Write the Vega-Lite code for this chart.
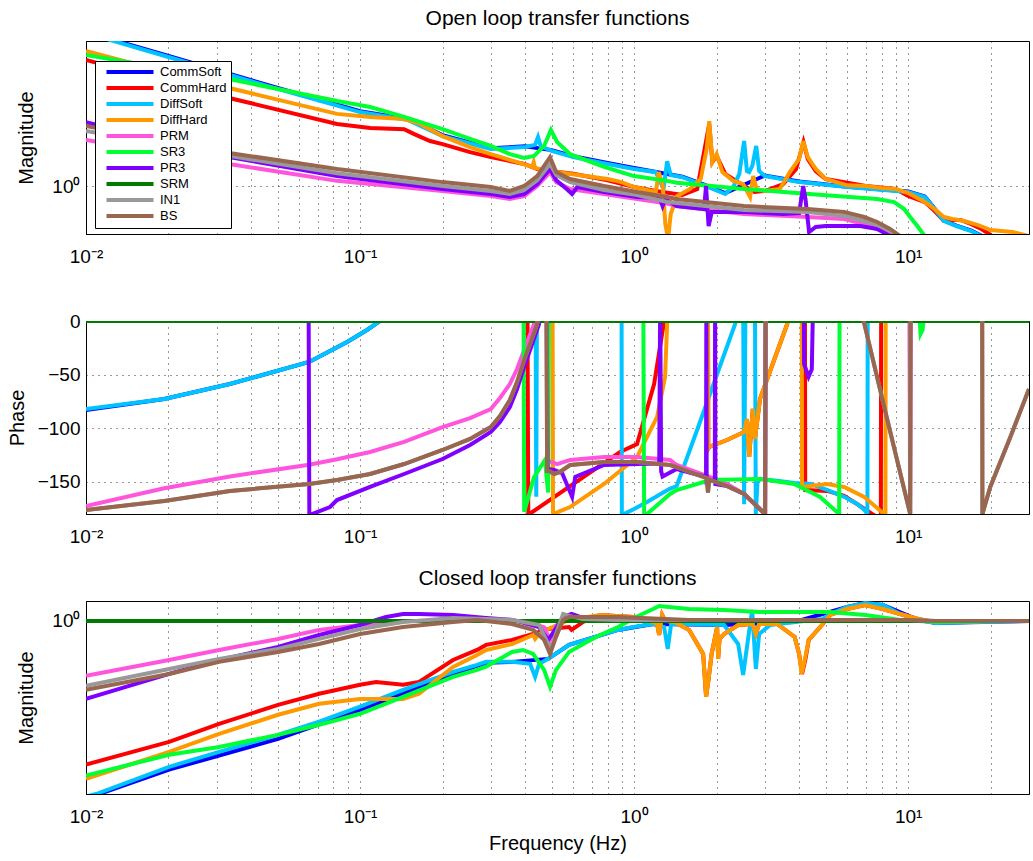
{
  "$schema": "https://vega.github.io/schema/vega-lite/v6.json",
  "background": "white",
  "padding": {"left": 6, "top": 7, "right": 0, "bottom": 0},
  "spacing": 87,
  "bounds": "flush",
  "resolve": {"legend": {"color": "independent"}},
  "config": {
    "font": "Liberation Sans",
    "view": {"stroke": "black", "strokeWidth": 1},
    "axis": {"labelFontSize": 19, "titleFontSize": 20, "titleFontWeight": "normal", "labelColor": "black", "titleColor": "black", "domainColor": "black", "ticks": false, "labelPadding": 6, "titlePadding": 10, "gridColor": "black", "gridDash": [1, 5], "gridOpacity": 0.8, "gridWidth": 1},
    "title": {"fontSize": 21, "fontWeight": "normal", "color": "black", "offset": 12}
  },
  "datasets": {
    "open": [
      {"s":"CommSoft","f":0.01,"v":10.0},{"s":"CommSoft","f":0.02,"v":6.98},{"s":"CommSoft","f":0.05,"v":4.33},{"s":"CommSoft","f":0.1,"v":3.06},{"s":"CommSoft","f":0.15,"v":2.72},{"s":"CommSoft","f":0.2,"v":2.14},{"s":"CommSoft","f":0.3,"v":1.76},{"s":"CommSoft","f":0.4,"v":1.81},{"s":"CommSoft","f":0.5,"v":1.71},{"s":"CommSoft","f":0.6,"v":1.56},{"s":"CommSoft","f":0.8,"v":1.41},{"s":"CommSoft","f":1,"v":1.31},{"s":"CommSoft","f":1.5,"v":1.15},{"s":"CommSoft","f":1.8,"v":1.02},{"s":"CommSoft","f":2.15,"v":0.9},{"s":"CommSoft","f":3,"v":1.17},{"s":"CommSoft","f":4,"v":1.07},{"s":"CommSoft","f":6,"v":0.99},{"s":"CommSoft","f":10,"v":0.92},{"s":"CommSoft","f":11.5,"v":0.855},{"s":"CommSoft","f":12.5,"v":0.712},{"s":"CommSoft","f":13.5,"v":0.596},{"s":"CommSoft","f":15,"v":0.553},{"s":"CommSoft","f":17,"v":0.513},{"s":"CommSoft","f":18.5,"v":0.476},{"s":"CommSoft","f":20,"v":0.423},{"s":"CommSoft","f":27.6,"v":0.338},
      {"s":"CommHard","f":0.01,"v":6.58},{"s":"CommHard","f":0.02,"v":4.73},{"s":"CommHard","f":0.0333,"v":3.73},{"s":"CommHard","f":0.0824,"v":2.53},{"s":"CommHard","f":0.1088,"v":2.38},{"s":"CommHard","f":0.1448,"v":2.34},{"s":"CommHard","f":0.157,"v":2.18},{"s":"CommHard","f":0.18,"v":1.96},{"s":"CommHard","f":0.2,"v":1.87},{"s":"CommHard","f":0.252,"v":1.66},{"s":"CommHard","f":0.3,"v":1.54},{"s":"CommHard","f":0.397,"v":1.39},{"s":"CommHard","f":0.443,"v":1.29},{"s":"CommHard","f":0.4935,"v":1.25},{"s":"CommHard","f":0.6,"v":1.2},{"s":"CommHard","f":0.8,"v":1.09},{"s":"CommHard","f":1,"v":0.985},{"s":"CommHard","f":1.2,"v":0.928},{"s":"CommHard","f":1.5,"v":0.874},{"s":"CommHard","f":1.7,"v":0.957},{"s":"CommHard","f":1.88,"v":2.53},{"s":"CommHard","f":1.93,"v":1.43},{"s":"CommHard","f":2,"v":1.57},{"s":"CommHard","f":2.15,"v":1.2},{"s":"CommHard","f":2.5,"v":1.01},{"s":"CommHard","f":2.75,"v":0.914},{"s":"CommHard","f":3,"v":0.928},{"s":"CommHard","f":3.5,"v":1.03},{"s":"CommHard","f":3.9,"v":1.29},{"s":"CommHard","f":4.15,"v":1.93},{"s":"CommHard","f":4.3,"v":1.5},{"s":"CommHard","f":4.6,"v":1.25},{"s":"CommHard","f":5,"v":1.11},{"s":"CommHard","f":7,"v":1},{"s":"CommHard","f":9,"v":0.957},{"s":"CommHard","f":10,"v":0.861},{"s":"CommHard","f":11.5,"v":0.787},{"s":"CommHard","f":12.5,"v":0.688},{"s":"CommHard","f":13.5,"v":0.593},{"s":"CommHard","f":14.5,"v":0.602},{"s":"CommHard","f":15.5,"v":0.602},{"s":"CommHard","f":17,"v":0.566},{"s":"CommHard","f":18.5,"v":0.526},{"s":"CommHard","f":20,"v":0.481},{"s":"CommHard","f":22,"v":0.42},{"s":"CommHard","f":27.6,"v":0.35},
      {"s":"DiffSoft","f":0.01,"v":9.86},{"s":"DiffSoft","f":0.02,"v":6.88},{"s":"DiffSoft","f":0.05,"v":4.27},{"s":"DiffSoft","f":0.1,"v":3.02},{"s":"DiffSoft","f":0.15,"v":2.68},{"s":"DiffSoft","f":0.2,"v":2.11},{"s":"DiffSoft","f":0.3,"v":1.74},{"s":"DiffSoft","f":0.4,"v":1.79},{"s":"DiffSoft","f":0.435,"v":1.85},{"s":"DiffSoft","f":0.446,"v":2.08},{"s":"DiffSoft","f":0.456,"v":1.82},{"s":"DiffSoft","f":0.5,"v":1.69},{"s":"DiffSoft","f":0.6,"v":1.54},{"s":"DiffSoft","f":0.8,"v":1.39},{"s":"DiffSoft","f":1,"v":1.29},{"s":"DiffSoft","f":1.2,"v":1.23},{"s":"DiffSoft","f":1.28,"v":0.957},{"s":"DiffSoft","f":1.32,"v":1.45},{"s":"DiffSoft","f":1.36,"v":1.18},{"s":"DiffSoft","f":1.5,"v":1.14},{"s":"DiffSoft","f":1.8,"v":1.01},{"s":"DiffSoft","f":2.15,"v":0.887},{"s":"DiffSoft","f":2.3,"v":0.986},{"s":"DiffSoft","f":2.42,"v":1.2},{"s":"DiffSoft","f":2.52,"v":1.96},{"s":"DiffSoft","f":2.58,"v":1.25},{"s":"DiffSoft","f":2.63,"v":1.23},{"s":"DiffSoft","f":2.7,"v":1.35},{"s":"DiffSoft","f":2.79,"v":1.82},{"s":"DiffSoft","f":2.86,"v":1.25},{"s":"DiffSoft","f":3,"v":1.16},{"s":"DiffSoft","f":4,"v":1.06},{"s":"DiffSoft","f":6,"v":0.986},{"s":"DiffSoft","f":10,"v":0.914},{"s":"DiffSoft","f":11.5,"v":0.849},{"s":"DiffSoft","f":12.5,"v":0.709},{"s":"DiffSoft","f":13.5,"v":0.593},{"s":"DiffSoft","f":15,"v":0.55},{"s":"DiffSoft","f":17,"v":0.51},{"s":"DiffSoft","f":18.5,"v":0.473},{"s":"DiffSoft","f":20,"v":0.42},{"s":"DiffSoft","f":27.6,"v":0.336},
      {"s":"DiffHard","f":0.01,"v":7.53},{"s":"DiffHard","f":0.02,"v":5.42},{"s":"DiffHard","f":0.0333,"v":4.33},{"s":"DiffHard","f":0.0824,"v":2.94},{"s":"DiffHard","f":0.1088,"v":2.81},{"s":"DiffHard","f":0.1448,"v":2.72},{"s":"DiffHard","f":0.1656,"v":2.53},{"s":"DiffHard","f":0.2,"v":2.11},{"s":"DiffHard","f":0.252,"v":1.79},{"s":"DiffHard","f":0.3,"v":1.61},{"s":"DiffHard","f":0.374,"v":1.43},{"s":"DiffHard","f":0.425,"v":1.33},{"s":"DiffHard","f":0.43,"v":1.43},{"s":"DiffHard","f":0.435,"v":1.31},{"s":"DiffHard","f":0.4935,"v":1.25},{"s":"DiffHard","f":0.58,"v":1.2},{"s":"DiffHard","f":0.8,"v":1.11},{"s":"DiffHard","f":0.9,"v":1.06},{"s":"DiffHard","f":1,"v":0.985},{"s":"DiffHard","f":1.2,"v":0.914},{"s":"DiffHard","f":1.23,"v":1.23},{"s":"DiffHard","f":1.27,"v":1.03},{"s":"DiffHard","f":1.3,"v":0.567},{"s":"DiffHard","f":1.33,"v":0.453},{"s":"DiffHard","f":1.36,"v":0.658},{"s":"DiffHard","f":1.435,"v":0.861},{"s":"DiffHard","f":1.6,"v":0.957},{"s":"DiffHard","f":1.75,"v":1.11},{"s":"DiffHard","f":1.84,"v":1.74},{"s":"DiffHard","f":1.88,"v":2.64},{"s":"DiffHard","f":1.93,"v":1.43},{"s":"DiffHard","f":2,"v":1.61},{"s":"DiffHard","f":2.1,"v":1.23},{"s":"DiffHard","f":2.3,"v":1.08},{"s":"DiffHard","f":2.5,"v":1.03},{"s":"DiffHard","f":2.65,"v":0.849},{"s":"DiffHard","f":2.72,"v":1.16},{"s":"DiffHard","f":2.8,"v":0.957},{"s":"DiffHard","f":3,"v":0.928},{"s":"DiffHard","f":3.4,"v":0.957},{"s":"DiffHard","f":3.7,"v":1.23},{"s":"DiffHard","f":4,"v":1.5},{"s":"DiffHard","f":4.14,"v":1.96},{"s":"DiffHard","f":4.3,"v":1.54},{"s":"DiffHard","f":4.6,"v":1.29},{"s":"DiffHard","f":5,"v":1.11},{"s":"DiffHard","f":6,"v":1.01},{"s":"DiffHard","f":7,"v":1},{"s":"DiffHard","f":8,"v":0.97},{"s":"DiffHard","f":9,"v":0.957},{"s":"DiffHard","f":10,"v":0.901},{"s":"DiffHard","f":11.5,"v":0.787},{"s":"DiffHard","f":12.5,"v":0.709},{"s":"DiffHard","f":13.5,"v":0.629},{"s":"DiffHard","f":14.5,"v":0.611},{"s":"DiffHard","f":16,"v":0.593},{"s":"DiffHard","f":18,"v":0.558},{"s":"DiffHard","f":20,"v":0.518},{"s":"DiffHard","f":24,"v":0.503},{"s":"DiffHard","f":27.6,"v":0.473},
      {"s":"PRM","f":0.01,"v":1.99},{"s":"PRM","f":0.0333,"v":1.39},{"s":"PRM","f":0.0824,"v":1.08},{"s":"PRM","f":0.2,"v":0.929},{"s":"PRM","f":0.3,"v":0.861},{"s":"PRM","f":0.352,"v":0.823},{"s":"PRM","f":0.397,"v":0.861},{"s":"PRM","f":0.443,"v":1},{"s":"PRM","f":0.4935,"v":1.23},{"s":"PRM","f":0.52,"v":1.06},{"s":"PRM","f":0.584,"v":0.957},{"s":"PRM","f":0.777,"v":0.887},{"s":"PRM","f":1.026,"v":0.823},{"s":"PRM","f":1.32,"v":0.77},{"s":"PRM","f":1.43,"v":0.74},{"s":"PRM","f":2.52,"v":0.658},{"s":"PRM","f":4.3,"v":0.629},{"s":"PRM","f":5.84,"v":0.611},{"s":"PRM","f":6.91,"v":0.567},{"s":"PRM","f":7.71,"v":0.526},{"s":"PRM","f":8.59,"v":0.488},{"s":"PRM","f":9,"v":0.453},{"s":"PRM","f":10,"v":0.39},
      {"s":"SR3","f":0.01,"v":7.09},{"s":"SR3","f":0.02,"v":5.75},{"s":"SR3","f":0.0333,"v":4.95},{"s":"SR3","f":0.0824,"v":3.56},{"s":"SR3","f":0.1088,"v":3.26},{"s":"SR3","f":0.1448,"v":2.81},{"s":"SR3","f":0.2,"v":2.34},{"s":"SR3","f":0.252,"v":2.02},{"s":"SR3","f":0.3,"v":1.82},{"s":"SR3","f":0.352,"v":1.61},{"s":"SR3","f":0.397,"v":1.52},{"s":"SR3","f":0.4315,"v":1.57},{"s":"SR3","f":0.4694,"v":1.82},{"s":"SR3","f":0.497,"v":2.31},{"s":"SR3","f":0.5236,"v":1.93},{"s":"SR3","f":0.584,"v":1.61},{"s":"SR3","f":0.777,"v":1.33},{"s":"SR3","f":1,"v":1.16},{"s":"SR3","f":1.32,"v":1.08},{"s":"SR3","f":1.43,"v":1.05},{"s":"SR3","f":2.52,"v":0.957},{"s":"SR3","f":4.35,"v":0.887},{"s":"SR3","f":7.71,"v":0.823},{"s":"SR3","f":8.89,"v":0.787},{"s":"SR3","f":9.67,"v":0.709},{"s":"SR3","f":10.17,"v":0.629},{"s":"SR3","f":10.8,"v":0.55},{"s":"SR3","f":11.5,"v":0.473},{"s":"SR3","f":13,"v":0.336},
      {"s":"PR3","f":0.01,"v":2.6},{"s":"PR3","f":0.0333,"v":1.54},{"s":"PR3","f":0.0824,"v":1.16},{"s":"PR3","f":0.2,"v":0.957},{"s":"PR3","f":0.3,"v":0.887},{"s":"PR3","f":0.352,"v":0.849},{"s":"PR3","f":0.397,"v":0.887},{"s":"PR3","f":0.443,"v":1.03},{"s":"PR3","f":0.4935,"v":1.29},{"s":"PR3","f":0.52,"v":1.09},{"s":"PR3","f":0.57,"v":0.95},{"s":"PR3","f":0.594,"v":0.887},{"s":"PR3","f":0.62,"v":0.985},{"s":"PR3","f":0.777,"v":0.914},{"s":"PR3","f":1.026,"v":0.849},{"s":"PR3","f":1.24,"v":0.836},{"s":"PR3","f":1.27,"v":0.741},{"s":"PR3","f":1.3,"v":0.823},{"s":"PR3","f":1.43,"v":0.741},{"s":"PR3","f":1.8,"v":0.709},{"s":"PR3","f":1.83,"v":1},{"s":"PR3","f":1.87,"v":0.55},{"s":"PR3","f":1.92,"v":0.678},{"s":"PR3","f":2.52,"v":0.678},{"s":"PR3","f":3.5,"v":0.658},{"s":"PR3","f":4,"v":0.668},{"s":"PR3","f":4.14,"v":1},{"s":"PR3","f":4.22,"v":0.823},{"s":"PR3","f":4.35,"v":0.503},{"s":"PR3","f":4.6,"v":0.542},{"s":"PR3","f":5,"v":0.55},{"s":"PR3","f":6.68,"v":0.55},{"s":"PR3","f":7.71,"v":0.526},{"s":"PR3","f":8.59,"v":0.473},{"s":"PR3","f":9,"v":0.42},
      {"s":"IN1","f":0.01,"v":2.28},{"s":"IN1","f":0.0333,"v":1.57},{"s":"IN1","f":0.0824,"v":1.21},{"s":"IN1","f":0.2,"v":1},{"s":"IN1","f":0.3,"v":0.929},{"s":"IN1","f":0.352,"v":0.887},{"s":"IN1","f":0.397,"v":0.942},{"s":"IN1","f":0.443,"v":1.09},{"s":"IN1","f":0.4935,"v":1.39},{"s":"IN1","f":0.52,"v":1.18},{"s":"IN1","f":0.584,"v":1.06},{"s":"IN1","f":0.777,"v":0.942},{"s":"IN1","f":1.026,"v":0.874},{"s":"IN1","f":1.32,"v":0.787},{"s":"IN1","f":1.43,"v":0.776},{"s":"IN1","f":2.52,"v":0.698},{"s":"IN1","f":4.3,"v":0.678},{"s":"IN1","f":5.84,"v":0.638},{"s":"IN1","f":6.91,"v":0.593},{"s":"IN1","f":7.71,"v":0.558},{"s":"IN1","f":8.59,"v":0.51},{"s":"IN1","f":9.35,"v":0.466},{"s":"IN1","f":10,"v":0.4},
      {"s":"BS","f":0.01,"v":2.45},{"s":"BS","f":0.0333,"v":1.64},{"s":"BS","f":0.0824,"v":1.29},{"s":"BS","f":0.2,"v":1.06},{"s":"BS","f":0.3,"v":0.985},{"s":"BS","f":0.352,"v":0.929},{"s":"BS","f":0.397,"v":1},{"s":"BS","f":0.443,"v":1.16},{"s":"BS","f":0.4935,"v":1.54},{"s":"BS","f":0.52,"v":1.23},{"s":"BS","f":0.584,"v":1.11},{"s":"BS","f":0.777,"v":1},{"s":"BS","f":1.026,"v":0.914},{"s":"BS","f":1.32,"v":0.849},{"s":"BS","f":1.43,"v":0.823},{"s":"BS","f":2.52,"v":0.741},{"s":"BS","f":4.3,"v":0.709},{"s":"BS","f":5.84,"v":0.678},{"s":"BS","f":6.91,"v":0.629},{"s":"BS","f":7.71,"v":0.584},{"s":"BS","f":8.59,"v":0.526},{"s":"BS","f":9.35,"v":0.473},{"s":"BS","f":10,"v":0.39}
    ],
    "phase": [
      {"s":"CommSoft","f":0.01,"v":-83},{"s":"CommSoft","f":0.0193,"v":-72.7},{"s":"CommSoft","f":0.0335,"v":-58.8},{"s":"CommSoft","f":0.0652,"v":-38.2},{"s":"CommSoft","f":0.0897,"v":-19.6},{"s":"CommSoft","f":0.106,"v":-8.4},{"s":"CommSoft","f":0.1183,"v":0},{"s":"CommSoft","f":0.13,"v":20},{"s":"CommSoft","f":27.6,"v":20},
      {"s":"CommHard","f":0.01,"v":20},{"s":"CommHard","f":0.408,"v":20},{"s":"CommHard","f":0.411,"v":-180},{"s":"CommHard","f":0.415,"v":-180},{"s":"CommHard","f":0.584,"v":-154},{"s":"CommHard","f":0.889,"v":-122.2},{"s":"CommHard","f":1.025,"v":-114.7},{"s":"CommHard","f":1.183,"v":-58.8},{"s":"CommHard","f":1.287,"v":0},{"s":"CommHard","f":1.3,"v":20},{"s":"CommHard","f":1.86,"v":20},{"s":"CommHard","f":1.865,"v":-119},{"s":"CommHard","f":1.88,"v":-117.5},{"s":"CommHard","f":2.185,"v":-111},{"s":"CommHard","f":2.52,"v":-103.5},{"s":"CommHard","f":2.58,"v":-91.4},{"s":"CommHard","f":2.63,"v":-126.8},{"s":"CommHard","f":2.71,"v":-82},{"s":"CommHard","f":2.76,"v":-110},{"s":"CommHard","f":2.88,"v":-72.7},{"s":"CommHard","f":3.62,"v":-2.8},{"s":"CommHard","f":3.66,"v":20},{"s":"CommHard","f":4.2,"v":20},{"s":"CommHard","f":4.21,"v":-157.6},{"s":"CommHard","f":5.06,"v":-158.5},{"s":"CommHard","f":5.84,"v":-163},{"s":"CommHard","f":6.51,"v":-170.7},{"s":"CommHard","f":7.39,"v":-180},{"s":"CommHard","f":7.95,"v":-185},{"s":"CommHard","f":7.97,"v":20},{"s":"CommHard","f":27.6,"v":20},
      {"s":"DiffSoft","f":0.01,"v":-82.1},{"s":"DiffSoft","f":0.0193,"v":-72.7},{"s":"DiffSoft","f":0.0335,"v":-58.8},{"s":"DiffSoft","f":0.0652,"v":-38.2},{"s":"DiffSoft","f":0.0897,"v":-19.6},{"s":"DiffSoft","f":0.106,"v":-8.4},{"s":"DiffSoft","f":0.1183,"v":0},{"s":"DiffSoft","f":0.13,"v":20},{"s":"DiffSoft","f":0.437,"v":20},{"s":"DiffSoft","f":0.4395,"v":-164},{"s":"DiffSoft","f":0.442,"v":20},{"s":"DiffSoft","f":0.9,"v":20},{"s":"DiffSoft","f":0.902,"v":-181},{"s":"DiffSoft","f":1,"v":-175.3},{"s":"DiffSoft","f":1.115,"v":-168.8},{"s":"DiffSoft","f":1.342,"v":-156.7},{"s":"DiffSoft","f":1.43,"v":-153.9},{"s":"DiffSoft","f":1.698,"v":-101.7},{"s":"DiffSoft","f":2.009,"v":-49.4},{"s":"DiffSoft","f":2.337,"v":-2.8},{"s":"DiffSoft","f":2.4,"v":20},{"s":"DiffSoft","f":2.5,"v":20},{"s":"DiffSoft","f":2.52,"v":-171},{"s":"DiffSoft","f":2.55,"v":20},{"s":"DiffSoft","f":2.76,"v":20},{"s":"DiffSoft","f":2.78,"v":-180},{"s":"DiffSoft","f":2.82,"v":-150},{"s":"DiffSoft","f":2.884,"v":-147.4},{"s":"DiffSoft","f":3.33,"v":-149},{"s":"DiffSoft","f":3.84,"v":-151},{"s":"DiffSoft","f":4.39,"v":-152},{"s":"DiffSoft","f":5.06,"v":-157.6},{"s":"DiffSoft","f":5.84,"v":-164},{"s":"DiffSoft","f":6.51,"v":-170.7},{"s":"DiffSoft","f":6.91,"v":-176},{"s":"DiffSoft","f":7.1,"v":-180},{"s":"DiffSoft","f":7.12,"v":20},{"s":"DiffSoft","f":27.6,"v":20},
      {"s":"DiffHard","f":0.01,"v":20},{"s":"DiffHard","f":0.504,"v":20},{"s":"DiffHard","f":0.506,"v":-180},{"s":"DiffHard","f":0.584,"v":-173.5},{"s":"DiffHard","f":0.777,"v":-152},{"s":"DiffHard","f":1.025,"v":-126.8},{"s":"DiffHard","f":1.213,"v":-89.5},{"s":"DiffHard","f":1.297,"v":-52.2},{"s":"DiffHard","f":1.32,"v":-2.8},{"s":"DiffHard","f":1.33,"v":20},{"s":"DiffHard","f":1.86,"v":20},{"s":"DiffHard","f":1.865,"v":-119},{"s":"DiffHard","f":1.88,"v":-117.5},{"s":"DiffHard","f":2.185,"v":-111},{"s":"DiffHard","f":2.52,"v":-103.5},{"s":"DiffHard","f":2.58,"v":-91.4},{"s":"DiffHard","f":2.63,"v":-126.8},{"s":"DiffHard","f":2.71,"v":-82},{"s":"DiffHard","f":2.76,"v":-110},{"s":"DiffHard","f":2.88,"v":-72.7},{"s":"DiffHard","f":3.62,"v":-2.8},{"s":"DiffHard","f":3.66,"v":20},{"s":"DiffHard","f":4.09,"v":20},{"s":"DiffHard","f":4.1,"v":-154.8},{"s":"DiffHard","f":5.06,"v":-152},{"s":"DiffHard","f":5.84,"v":-154.8},{"s":"DiffHard","f":6.91,"v":-164},{"s":"DiffHard","f":8.17,"v":-180},{"s":"DiffHard","f":8.26,"v":-182},{"s":"DiffHard","f":8.28,"v":20},{"s":"DiffHard","f":27.6,"v":20},
      {"s":"PRM","f":0.01,"v":-172.5},{"s":"PRM","f":0.0193,"v":-156},{"s":"PRM","f":0.0335,"v":-145},{"s":"PRM","f":0.0652,"v":-134},{"s":"PRM","f":0.0824,"v":-129},{"s":"PRM","f":0.1088,"v":-122.2},{"s":"PRM","f":0.1448,"v":-112.8},{"s":"PRM","f":0.2,"v":-98.9},{"s":"PRM","f":0.252,"v":-90.5},{"s":"PRM","f":0.3,"v":-82.1},{"s":"PRM","f":0.324,"v":-71.8},{"s":"PRM","f":0.352,"v":-58.8},{"s":"PRM","f":0.374,"v":-44.8},{"s":"PRM","f":0.397,"v":-27},{"s":"PRM","f":0.4315,"v":-2.8},{"s":"PRM","f":0.443,"v":6.5},{"s":"PRM","f":0.46,"v":20},{"s":"PRM","f":0.479,"v":20},{"s":"PRM","f":0.482,"v":-130},{"s":"PRM","f":0.5236,"v":-133.4},{"s":"PRM","f":0.584,"v":-129.6},{"s":"PRM","f":0.777,"v":-126.8},{"s":"PRM","f":1.025,"v":-126.8},{"s":"PRM","f":1.353,"v":-129.6},{"s":"PRM","f":1.43,"v":-134.3},{"s":"PRM","f":1.894,"v":-145.5},{"s":"PRM","f":2.185,"v":-152},{"s":"PRM","f":2.52,"v":-161.3},{"s":"PRM","f":3.006,"v":-180},{"s":"PRM","f":3.02,"v":20},{"s":"PRM","f":10.1,"v":20},{"s":"PRM","f":10.17,"v":-182},{"s":"PRM","f":10.25,"v":20},{"s":"PRM","f":27.6,"v":20},
      {"s":"SR3","f":0.01,"v":20},{"s":"SR3","f":0.395,"v":20},{"s":"SR3","f":0.397,"v":-178},{"s":"SR3","f":0.4315,"v":-145.5},{"s":"SR3","f":0.473,"v":-129.6},{"s":"SR3","f":0.482,"v":-152},{"s":"SR3","f":0.486,"v":-160},{"s":"SR3","f":0.489,"v":20},{"s":"SR3","f":1.08,"v":20},{"s":"SR3","f":1.088,"v":-180},{"s":"SR3","f":1.115,"v":-180},{"s":"SR3","f":1.353,"v":-161.3},{"s":"SR3","f":1.43,"v":-157.6},{"s":"SR3","f":1.894,"v":-148.3},{"s":"SR3","f":2.884,"v":-147.4},{"s":"SR3","f":3.84,"v":-152},{"s":"SR3","f":4.77,"v":-164.1},{"s":"SR3","f":5.6,"v":-180},{"s":"SR3","f":5.62,"v":20},{"s":"SR3","f":10.9,"v":20},{"s":"SR3","f":11.1,"v":-12},{"s":"SR3","f":11.3,"v":-8},{"s":"SR3","f":11.5,"v":20},{"s":"SR3","f":27.6,"v":20},
      {"s":"PR3","f":0.01,"v":20},{"s":"PR3","f":0.0649,"v":20},{"s":"PR3","f":0.0653,"v":-181},{"s":"PR3","f":0.0777,"v":-173.5},{"s":"PR3","f":0.0824,"v":-167},{"s":"PR3","f":0.1088,"v":-154.8},{"s":"PR3","f":0.1448,"v":-142.7},{"s":"PR3","f":0.2,"v":-128.7},{"s":"PR3","f":0.252,"v":-115.6},{"s":"PR3","f":0.3,"v":-103.5},{"s":"PR3","f":0.324,"v":-94.2},{"s":"PR3","f":0.352,"v":-80.2},{"s":"PR3","f":0.374,"v":-63.4},{"s":"PR3","f":0.397,"v":-42.9},{"s":"PR3","f":0.45,"v":-2.8},{"s":"PR3","f":0.46,"v":20},{"s":"PR3","f":0.48,"v":20},{"s":"PR3","f":0.483,"v":-138},{"s":"PR3","f":0.511,"v":-139},{"s":"PR3","f":0.546,"v":-141.8},{"s":"PR3","f":0.594,"v":-164},{"s":"PR3","f":0.61,"v":-145.5},{"s":"PR3","f":0.777,"v":-134.3},{"s":"PR3","f":1.025,"v":-133.4},{"s":"PR3","f":1.235,"v":-133},{"s":"PR3","f":1.245,"v":20},{"s":"PR3","f":1.255,"v":-140},{"s":"PR3","f":1.27,"v":-145},{"s":"PR3","f":1.43,"v":-138},{"s":"PR3","f":1.83,"v":-145.5},{"s":"PR3","f":1.835,"v":20},{"s":"PR3","f":1.84,"v":-150},{"s":"PR3","f":1.894,"v":-148},{"s":"PR3","f":1.97,"v":-150},{"s":"PR3","f":1.975,"v":20},{"s":"PR3","f":1.98,"v":-152},{"s":"PR3","f":2.185,"v":-154},{"s":"PR3","f":2.52,"v":-161.3},{"s":"PR3","f":3.006,"v":-180},{"s":"PR3","f":3.02,"v":20},{"s":"PR3","f":4.16,"v":20},{"s":"PR3","f":4.17,"v":-40},{"s":"PR3","f":4.33,"v":-52},{"s":"PR3","f":4.45,"v":-45},{"s":"PR3","f":4.5,"v":20},{"s":"PR3","f":27.6,"v":20},
      {"s":"SRM","f":0.01,"v":0},{"s":"SRM","f":27.6,"v":0},
      {"s":"IN1","f":0.01,"v":-176.3},{"s":"IN1","f":0.0193,"v":-167.9},{"s":"IN1","f":0.0335,"v":-158.5},{"s":"IN1","f":0.0652,"v":-152},{"s":"IN1","f":0.0824,"v":-148.3},{"s":"IN1","f":0.1088,"v":-142.7},{"s":"IN1","f":0.1448,"v":-133.4},{"s":"IN1","f":0.2,"v":-120.3},{"s":"IN1","f":0.252,"v":-110},{"s":"IN1","f":0.3,"v":-98.9},{"s":"IN1","f":0.324,"v":-88.6},{"s":"IN1","f":0.352,"v":-73.7},{"s":"IN1","f":0.374,"v":-56.9},{"s":"IN1","f":0.397,"v":-36.4},{"s":"IN1","f":0.443,"v":-2.8},{"s":"IN1","f":0.455,"v":20},{"s":"IN1","f":0.479,"v":20},{"s":"IN1","f":0.4814,"v":-140},{"s":"IN1","f":0.4896,"v":-140},{"s":"IN1","f":0.511,"v":-142.7},{"s":"IN1","f":0.536,"v":-140.8},{"s":"IN1","f":0.584,"v":-134.3},{"s":"IN1","f":0.777,"v":-131.5},{"s":"IN1","f":1.025,"v":-131.5},{"s":"IN1","f":1.353,"v":-134.3},{"s":"IN1","f":1.43,"v":-136.2},{"s":"IN1","f":1.84,"v":-146.5},{"s":"IN1","f":1.86,"v":-160},{"s":"IN1","f":1.88,"v":-148},{"s":"IN1","f":2.185,"v":-153.9},{"s":"IN1","f":2.52,"v":-161.3},{"s":"IN1","f":3.006,"v":-180},{"s":"IN1","f":3.02,"v":20},{"s":"IN1","f":6.8,"v":20},{"s":"IN1","f":6.88,"v":0},{"s":"IN1","f":8.38,"v":-91.4},{"s":"IN1","f":10.17,"v":-180},{"s":"IN1","f":10.2,"v":20},{"s":"IN1","f":18.6,"v":20},{"s":"IN1","f":18.63,"v":0},{"s":"IN1","f":18.66,"v":-180},{"s":"IN1","f":19.93,"v":-154.8},{"s":"IN1","f":23.6,"v":-108.2},{"s":"IN1","f":27.6,"v":-63.4},
      {"s":"BS","f":0.01,"v":-176.3},{"s":"BS","f":0.0193,"v":-167.9},{"s":"BS","f":0.0335,"v":-158.5},{"s":"BS","f":0.0652,"v":-152},{"s":"BS","f":0.0824,"v":-148.3},{"s":"BS","f":0.1088,"v":-142.7},{"s":"BS","f":0.1448,"v":-133.4},{"s":"BS","f":0.2,"v":-120.3},{"s":"BS","f":0.252,"v":-110},{"s":"BS","f":0.3,"v":-98.9},{"s":"BS","f":0.324,"v":-88.6},{"s":"BS","f":0.352,"v":-73.7},{"s":"BS","f":0.374,"v":-56.9},{"s":"BS","f":0.397,"v":-36.4},{"s":"BS","f":0.443,"v":-2.8},{"s":"BS","f":0.455,"v":20},{"s":"BS","f":0.479,"v":20},{"s":"BS","f":0.4814,"v":-140},{"s":"BS","f":0.4896,"v":-140},{"s":"BS","f":0.511,"v":-142.7},{"s":"BS","f":0.536,"v":-140.8},{"s":"BS","f":0.584,"v":-134.3},{"s":"BS","f":0.777,"v":-131.5},{"s":"BS","f":1.025,"v":-131.5},{"s":"BS","f":1.353,"v":-134.3},{"s":"BS","f":1.43,"v":-136.2},{"s":"BS","f":1.84,"v":-146.5},{"s":"BS","f":1.86,"v":-160},{"s":"BS","f":1.88,"v":-148},{"s":"BS","f":2.185,"v":-153.9},{"s":"BS","f":2.52,"v":-161.3},{"s":"BS","f":3.006,"v":-180},{"s":"BS","f":3.02,"v":20},{"s":"BS","f":6.8,"v":20},{"s":"BS","f":6.88,"v":0},{"s":"BS","f":8.38,"v":-91.4},{"s":"BS","f":10.17,"v":-180},{"s":"BS","f":10.2,"v":20},{"s":"BS","f":18.6,"v":20},{"s":"BS","f":18.63,"v":0},{"s":"BS","f":18.66,"v":-180},{"s":"BS","f":19.93,"v":-154.8},{"s":"BS","f":23.6,"v":-108.2},{"s":"BS","f":27.6,"v":-63.4}
    ],
    "closed": [
      {"s":"CommSoft","f":0.01,"v":0.129},{"s":"CommSoft","f":0.0201,"v":0.18},{"s":"CommSoft","f":0.0502,"v":0.257},{"s":"CommSoft","f":0.1,"v":0.359},{"s":"CommSoft","f":0.1435,"v":0.432},{"s":"CommSoft","f":0.2185,"v":0.543},{"s":"CommSoft","f":0.2884,"v":0.617},{"s":"CommSoft","f":0.3586,"v":0.624},{"s":"CommSoft","f":0.4855,"v":0.646},{"s":"CommSoft","f":0.579,"v":0.759},{"s":"CommSoft","f":0.8742,"v":0.902},{"s":"CommSoft","f":1.173,"v":0.966},{"s":"CommSoft","f":2.13,"v":0.955},{"s":"CommSoft","f":3.853,"v":0.989},{"s":"CommSoft","f":5.99,"v":1.175},{"s":"CommSoft","f":6.97,"v":1.23},{"s":"CommSoft","f":8.08,"v":1.202},{"s":"CommSoft","f":10.88,"v":1.012},{"s":"CommSoft","f":12.61,"v":0.977},{"s":"CommSoft","f":27.6,"v":1},
      {"s":"CommHard","f":0.01,"v":0.191},{"s":"CommHard","f":0.0201,"v":0.248},{"s":"CommHard","f":0.0306,"v":0.305},{"s":"CommHard","f":0.0502,"v":0.38},{"s":"CommHard","f":0.0709,"v":0.432},{"s":"CommHard","f":0.1,"v":0.479},{"s":"CommHard","f":0.1144,"v":0.495},{"s":"CommHard","f":0.1435,"v":0.479},{"s":"CommHard","f":0.1642,"v":0.495},{"s":"CommHard","f":0.2185,"v":0.638},{"s":"CommHard","f":0.2673,"v":0.716},{"s":"CommHard","f":0.2884,"v":0.759},{"s":"CommHard","f":0.3586,"v":0.804},{"s":"CommHard","f":0.428,"v":0.861},{"s":"CommHard","f":0.4855,"v":0.912},{"s":"CommHard","f":0.579,"v":0.933},{"s":"CommHard","f":0.5915,"v":0.902},{"s":"CommHard","f":0.6516,"v":0.989},{"s":"CommHard","f":0.7513,"v":1.072},{"s":"CommHard","f":0.9917,"v":1.047},{"s":"CommHard","f":1.173,"v":0.989},{"s":"CommHard","f":1.213,"v":0.966},{"s":"CommHard","f":1.234,"v":0.851},{"s":"CommHard","f":1.266,"v":1.072},{"s":"CommHard","f":1.3,"v":1},{"s":"CommHard","f":1.406,"v":0.989},{"s":"CommHard","f":1.588,"v":0.902},{"s":"CommHard","f":1.786,"v":0.684},{"s":"CommHard","f":1.831,"v":0.417},{"s":"CommHard","f":1.87,"v":0.513},{"s":"CommHard","f":1.918,"v":0.684},{"s":"CommHard","f":2.009,"v":0.933},{"s":"CommHard","f":2.026,"v":0.646},{"s":"CommHard","f":2.05,"v":0.813},{"s":"CommHard","f":2.13,"v":0.861},{"s":"CommHard","f":2.397,"v":0.955},{"s":"CommHard","f":2.696,"v":0.966},{"s":"CommHard","f":2.781,"v":0.861},{"s":"CommHard","f":2.859,"v":0.966},{"s":"CommHard","f":3.326,"v":0.966},{"s":"CommHard","f":3.853,"v":0.832},{"s":"CommHard","f":4,"v":0.684},{"s":"CommHard","f":4.1,"v":0.543},{"s":"CommHard","f":4.22,"v":0.646},{"s":"CommHard","f":4.337,"v":0.804},{"s":"CommHard","f":4.884,"v":0.966},{"s":"CommHard","f":5.192,"v":1.072},{"s":"CommHard","f":5.99,"v":1.148},{"s":"CommHard","f":6.97,"v":1.202},{"s":"CommHard","f":8.08,"v":1.148},{"s":"CommHard","f":9.35,"v":1.084},{"s":"CommHard","f":10.88,"v":1.023},{"s":"CommHard","f":11.88,"v":1},{"s":"CommHard","f":27.6,"v":1},
      {"s":"DiffSoft","f":0.01,"v":0.132},{"s":"DiffSoft","f":0.01088,"v":0.136},{"s":"DiffSoft","f":0.0201,"v":0.186},{"s":"DiffSoft","f":0.0306,"v":0.221},{"s":"DiffSoft","f":0.0502,"v":0.269},{"s":"DiffSoft","f":0.0709,"v":0.313},{"s":"DiffSoft","f":0.1,"v":0.372},{"s":"DiffSoft","f":0.1435,"v":0.452},{"s":"DiffSoft","f":0.2185,"v":0.556},{"s":"DiffSoft","f":0.2673,"v":0.603},{"s":"DiffSoft","f":0.2884,"v":0.624},{"s":"DiffSoft","f":0.3586,"v":0.624},{"s":"DiffSoft","f":0.4174,"v":0.61},{"s":"DiffSoft","f":0.4352,"v":0.525},{"s":"DiffSoft","f":0.45,"v":0.61},{"s":"DiffSoft","f":0.4855,"v":0.646},{"s":"DiffSoft","f":0.579,"v":0.759},{"s":"DiffSoft","f":0.8742,"v":0.902},{"s":"DiffSoft","f":0.9917,"v":0.933},{"s":"DiffSoft","f":1.173,"v":0.966},{"s":"DiffSoft","f":1.287,"v":0.933},{"s":"DiffSoft","f":1.326,"v":0.724},{"s":"DiffSoft","f":1.365,"v":0.966},{"s":"DiffSoft","f":1.588,"v":0.966},{"s":"DiffSoft","f":2.13,"v":0.955},{"s":"DiffSoft","f":2.397,"v":0.767},{"s":"DiffSoft","f":2.499,"v":0.537},{"s":"DiffSoft","f":2.62,"v":0.861},{"s":"DiffSoft","f":2.696,"v":1.135},{"s":"DiffSoft","f":2.781,"v":0.575},{"s":"DiffSoft","f":2.859,"v":0.861},{"s":"DiffSoft","f":3.137,"v":0.955},{"s":"DiffSoft","f":3.853,"v":0.989},{"s":"DiffSoft","f":4.884,"v":1.023},{"s":"DiffSoft","f":5.192,"v":1.084},{"s":"DiffSoft","f":5.99,"v":1.175},{"s":"DiffSoft","f":6.97,"v":1.23},{"s":"DiffSoft","f":8.08,"v":1.202},{"s":"DiffSoft","f":9.35,"v":1.084},{"s":"DiffSoft","f":10.88,"v":1.012},{"s":"DiffSoft","f":12.61,"v":0.977},{"s":"DiffSoft","f":16.98,"v":0.989},{"s":"DiffSoft","f":27.6,"v":1},
      {"s":"DiffHard","f":0.01,"v":0.162},{"s":"DiffHard","f":0.0201,"v":0.221},{"s":"DiffHard","f":0.0306,"v":0.272},{"s":"DiffHard","f":0.0502,"v":0.339},{"s":"DiffHard","f":0.0709,"v":0.385},{"s":"DiffHard","f":0.1,"v":0.407},{"s":"DiffHard","f":0.1435,"v":0.407},{"s":"DiffHard","f":0.1642,"v":0.432},{"s":"DiffHard","f":0.2185,"v":0.589},{"s":"DiffHard","f":0.2673,"v":0.676},{"s":"DiffHard","f":0.2884,"v":0.716},{"s":"DiffHard","f":0.3586,"v":0.767},{"s":"DiffHard","f":0.428,"v":0.851},{"s":"DiffHard","f":0.4352,"v":0.813},{"s":"DiffHard","f":0.45,"v":0.861},{"s":"DiffHard","f":0.4855,"v":0.912},{"s":"DiffHard","f":0.579,"v":1.012},{"s":"DiffHard","f":0.7513,"v":1.072},{"s":"DiffHard","f":0.9917,"v":1.047},{"s":"DiffHard","f":1.173,"v":0.989},{"s":"DiffHard","f":1.213,"v":0.966},{"s":"DiffHard","f":1.234,"v":0.851},{"s":"DiffHard","f":1.266,"v":1.072},{"s":"DiffHard","f":1.3,"v":1},{"s":"DiffHard","f":1.406,"v":0.989},{"s":"DiffHard","f":1.588,"v":0.902},{"s":"DiffHard","f":1.786,"v":0.684},{"s":"DiffHard","f":1.831,"v":0.417},{"s":"DiffHard","f":1.87,"v":0.513},{"s":"DiffHard","f":1.918,"v":0.684},{"s":"DiffHard","f":2.009,"v":0.933},{"s":"DiffHard","f":2.026,"v":0.646},{"s":"DiffHard","f":2.05,"v":0.813},{"s":"DiffHard","f":2.13,"v":0.861},{"s":"DiffHard","f":2.397,"v":0.955},{"s":"DiffHard","f":2.696,"v":0.966},{"s":"DiffHard","f":2.781,"v":0.861},{"s":"DiffHard","f":2.859,"v":0.966},{"s":"DiffHard","f":3.326,"v":0.966},{"s":"DiffHard","f":3.853,"v":0.832},{"s":"DiffHard","f":4,"v":0.684},{"s":"DiffHard","f":4.086,"v":0.543},{"s":"DiffHard","f":4.2,"v":0.646},{"s":"DiffHard","f":4.337,"v":0.804},{"s":"DiffHard","f":4.884,"v":0.966},{"s":"DiffHard","f":5.192,"v":1.072},{"s":"DiffHard","f":5.99,"v":1.148},{"s":"DiffHard","f":6.97,"v":1.202},{"s":"DiffHard","f":8.08,"v":1.148},{"s":"DiffHard","f":9.35,"v":1.084},{"s":"DiffHard","f":10.88,"v":1.023},{"s":"DiffHard","f":11.88,"v":1},{"s":"DiffHard","f":27.6,"v":1},
      {"s":"PRM","f":0.01,"v":0.531},{"s":"PRM","f":0.0201,"v":0.638},{"s":"PRM","f":0.0306,"v":0.716},{"s":"PRM","f":0.0502,"v":0.813},{"s":"PRM","f":0.0709,"v":0.902},{"s":"PRM","f":0.1,"v":0.955},{"s":"PRM","f":0.1244,"v":0.989},{"s":"PRM","f":0.15,"v":1},{"s":"PRM","f":0.4,"v":1},{"s":"PRM","f":0.47,"v":0.93},{"s":"PRM","f":0.4935,"v":0.8},{"s":"PRM","f":0.52,"v":0.95},{"s":"PRM","f":0.58,"v":1.04},{"s":"PRM","f":0.8,"v":1.01},{"s":"PRM","f":1,"v":1},{"s":"PRM","f":27.6,"v":1},
      {"s":"SR3","f":0.01,"v":0.168},{"s":"SR3","f":0.0201,"v":0.214},{"s":"SR3","f":0.0306,"v":0.234},{"s":"SR3","f":0.0502,"v":0.269},{"s":"SR3","f":0.0709,"v":0.302},{"s":"SR3","f":0.1,"v":0.343},{"s":"SR3","f":0.1435,"v":0.417},{"s":"SR3","f":0.2185,"v":0.525},{"s":"SR3","f":0.2673,"v":0.569},{"s":"SR3","f":0.2884,"v":0.59},{"s":"SR3","f":0.3586,"v":0.7},{"s":"SR3","f":0.3934,"v":0.716},{"s":"SR3","f":0.428,"v":0.684},{"s":"SR3","f":0.4694,"v":0.569},{"s":"SR3","f":0.4935,"v":0.468},{"s":"SR3","f":0.519,"v":0.569},{"s":"SR3","f":0.579,"v":0.7},{"s":"SR3","f":0.6516,"v":0.767},{"s":"SR3","f":0.7513,"v":0.851},{"s":"SR3","f":0.8742,"v":0.933},{"s":"SR3","f":1.017,"v":1.047},{"s":"SR3","f":1.173,"v":1.148},{"s":"SR3","f":1.234,"v":1.189},{"s":"SR3","f":1.588,"v":1.148},{"s":"SR3","f":2.13,"v":1.135},{"s":"SR3","f":2.859,"v":1.109},{"s":"SR3","f":3.853,"v":1.109},{"s":"SR3","f":5.192,"v":1.109},{"s":"SR3","f":6.97,"v":1.072},{"s":"SR3","f":9.35,"v":1.012},{"s":"SR3","f":12.61,"v":0.989},{"s":"SR3","f":27.6,"v":1},
      {"s":"PR3","f":0.01,"v":0.407},{"s":"PR3","f":0.0201,"v":0.543},{"s":"PR3","f":0.0306,"v":0.638},{"s":"PR3","f":0.0502,"v":0.741},{"s":"PR3","f":0.0709,"v":0.851},{"s":"PR3","f":0.1,"v":0.955},{"s":"PR3","f":0.1244,"v":1.047},{"s":"PR3","f":0.1435,"v":1.084},{"s":"PR3","f":0.1642,"v":1.084},{"s":"PR3","f":0.2185,"v":1.072},{"s":"PR3","f":0.2884,"v":1.035},{"s":"PR3","f":0.36,"v":1.012},{"s":"PR3","f":0.45,"v":0.933},{"s":"PR3","f":0.4855,"v":0.804},{"s":"PR3","f":0.5,"v":0.851},{"s":"PR3","f":0.5507,"v":1.047},{"s":"PR3","f":0.5915,"v":1.084},{"s":"PR3","f":0.65,"v":1.035},{"s":"PR3","f":0.8,"v":1},{"s":"PR3","f":27.6,"v":1},
      {"s":"SRM","f":0.01,"v":1},{"s":"SRM","f":27.6,"v":1},
      {"s":"IN1","f":0.01,"v":0.473},{"s":"IN1","f":0.0201,"v":0.575},{"s":"IN1","f":0.0306,"v":0.646},{"s":"IN1","f":0.0502,"v":0.724},{"s":"IN1","f":0.0709,"v":0.813},{"s":"IN1","f":0.1,"v":0.912},{"s":"IN1","f":0.1435,"v":0.989},{"s":"IN1","f":0.2185,"v":1.035},{"s":"IN1","f":0.2884,"v":1.023},{"s":"IN1","f":0.36,"v":1.012},{"s":"IN1","f":0.45,"v":0.955},{"s":"IN1","f":0.4855,"v":0.767},{"s":"IN1","f":0.4977,"v":0.716},{"s":"IN1","f":0.519,"v":0.861},{"s":"IN1","f":0.5507,"v":1.084},{"s":"IN1","f":0.58,"v":1.06},{"s":"IN1","f":0.65,"v":1.023},{"s":"IN1","f":0.8742,"v":1.012},{"s":"IN1","f":10,"v":1.012},{"s":"IN1","f":12.6,"v":1},{"s":"IN1","f":27.6,"v":1},
      {"s":"BS","f":0.01,"v":0.452},{"s":"BS","f":0.0201,"v":0.543},{"s":"BS","f":0.0306,"v":0.624},{"s":"BS","f":0.0502,"v":0.7},{"s":"BS","f":0.0709,"v":0.767},{"s":"BS","f":0.1,"v":0.861},{"s":"BS","f":0.1435,"v":0.933},{"s":"BS","f":0.2185,"v":0.989},{"s":"BS","f":0.2673,"v":1.012},{"s":"BS","f":0.3586,"v":0.966},{"s":"BS","f":0.428,"v":0.902},{"s":"BS","f":0.4694,"v":0.804},{"s":"BS","f":0.4935,"v":0.684},{"s":"BS","f":0.519,"v":0.832},{"s":"BS","f":0.5507,"v":1.012},{"s":"BS","f":0.579,"v":1.047},{"s":"BS","f":0.8742,"v":1.047},{"s":"BS","f":1.588,"v":1.012},{"s":"BS","f":10,"v":1.012},{"s":"BS","f":12.6,"v":1},{"s":"BS","f":27.6,"v":1}
    ]
  },
  "vconcat": [
    {
      "width": 943, "height": 193,
      "title": {"text": "Open loop transfer functions"},
      "data": {"name": "open"},
      "mark": {"type": "line", "strokeWidth": 4, "clip": true},
      "encoding": {
        "x": {"field": "f", "type": "quantitative", "scale": {"type": "log", "domain": [0.01, 27.6], "nice": false},
          "axis": {"title": null, "grid": true, "labelOverlap": false, "labelFlush": false, "labelPadding": 13, "values": [0.01,0.02,0.03,0.04,0.05,0.06,0.07,0.08,0.09,0.1,0.2,0.3,0.4,0.5,0.6,0.7,0.8,0.9,1,2,3,4,5,6,7,8,9,10,20],
            "labelExpr": "datum.value === 0.01 ? '10⁻²' : datum.value === 0.1 ? '10⁻¹' : datum.value === 1 ? '10⁰' : datum.value === 10 ? '10¹' : ''"}},
        "y": {"field": "v", "type": "quantitative", "scale": {"type": "log", "domain": [0.488, 8.74], "nice": false},
          "axis": {"title": "Magnitude", "titlePadding": 15, "values": [1], "labelExpr": "'10⁰'", "grid": true}},
        "color": {"field": "s", "type": "nominal",
          "scale": {"domain": ["CommSoft","CommHard","DiffSoft","DiffHard","PRM","SR3","PR3","SRM","IN1","BS"], "range": ["#0000FF","#FF0000","#00C4FF","#FF9900","#FF55DD","#00FF33","#8000FF","#007A00","#999999","#996650"]},
          "legend": {"orient": "none", "legendX": 9, "legendY": 20, "title": null, "direction": "vertical",
            "symbolType": "M-4.7,0L4.7,0", "symbolSize": 100, "symbolStrokeWidth": 4,
            "labelFontSize": 13, "labelColor": "black", "strokeColor": "black", "fillColor": "white",
            "padding": 4, "rowPadding": 0, "symbolOffset": 24, "labelOffset": 23}}
      }
    },
    {
      "width": 943, "height": 193,
      "data": {"name": "phase"},
      "mark": {"type": "line", "strokeWidth": 4, "clip": true},
      "encoding": {
        "x": {"field": "f", "type": "quantitative", "scale": {"type": "log", "domain": [0.01, 27.6], "nice": false},
          "axis": {"title": null, "grid": true, "labelOverlap": false, "labelFlush": false, "labelPadding": 13, "values": [0.01,0.02,0.03,0.04,0.05,0.06,0.07,0.08,0.09,0.1,0.2,0.3,0.4,0.5,0.6,0.7,0.8,0.9,1,2,3,4,5,6,7,8,9,10,20],
            "labelExpr": "datum.value === 0.01 ? '10⁻²' : datum.value === 0.1 ? '10⁻¹' : datum.value === 1 ? '10⁰' : datum.value === 10 ? '10¹' : ''"}},
        "y": {"field": "v", "type": "quantitative", "scale": {"domain": [-180, 0], "nice": false},
          "axis": {"title": "Phase", "values": [0, -50, -100, -150], "grid": true}},
        "color": {"field": "s", "type": "nominal",
          "scale": {"domain": ["CommSoft","CommHard","DiffSoft","DiffHard","PRM","SR3","PR3","SRM","IN1","BS"], "range": ["#0000FF","#FF0000","#00C4FF","#FF9900","#FF55DD","#00FF33","#8000FF","#007A00","#999999","#996650"]},
          "legend": null}
      }
    },
    {
      "width": 943, "height": 193,
      "title": {"text": "Closed loop transfer functions"},
      "data": {"name": "closed"},
      "mark": {"type": "line", "strokeWidth": 4, "clip": true},
      "encoding": {
        "x": {"field": "f", "type": "quantitative", "scale": {"type": "log", "domain": [0.01, 27.6], "nice": false},
          "axis": {"title": "Frequency (Hz)", "titlePadding": 7, "grid": true, "labelOverlap": false, "labelFlush": false, "labelPadding": 13, "values": [0.01,0.02,0.03,0.04,0.05,0.06,0.07,0.08,0.09,0.1,0.2,0.3,0.4,0.5,0.6,0.7,0.8,0.9,1,2,3,4,5,6,7,8,9,10,20],
            "labelExpr": "datum.value === 0.01 ? '10⁻²' : datum.value === 0.1 ? '10⁻¹' : datum.value === 1 ? '10⁰' : datum.value === 10 ? '10¹' : ''"}},
        "y": {"field": "v", "type": "quantitative", "scale": {"type": "log", "domain": [0.136, 1.259], "nice": false},
          "axis": {"title": "Magnitude", "titlePadding": 15, "values": [1], "labelExpr": "'10⁰'", "grid": true}},
        "color": {"field": "s", "type": "nominal",
          "scale": {"domain": ["CommSoft","CommHard","DiffSoft","DiffHard","PRM","SR3","PR3","SRM","IN1","BS"], "range": ["#0000FF","#FF0000","#00C4FF","#FF9900","#FF55DD","#00FF33","#8000FF","#007A00","#999999","#996650"]},
          "legend": null}
      }
    }
  ]
}
